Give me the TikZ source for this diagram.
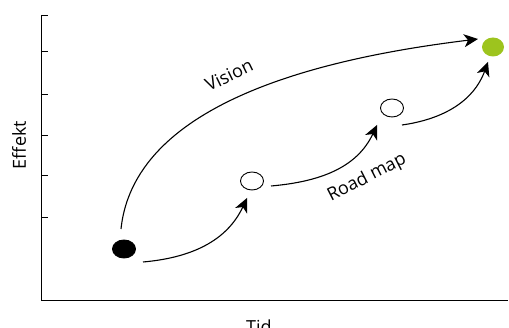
\documentclass[tikz,border=0pt]{standalone}
\usepackage{fontspec}
\setmainfont{Open Sans}
\usetikzlibrary{arrows.meta,shapes.geometric}

\definecolor{goalgreen}{RGB}{157,196,30}

\begin{document}
\begin{tikzpicture}[x=1pt,y=1pt,
    font=\fontsize{18}{21}\selectfont,
    milestone/.style={ellipse,draw,line width=0.9pt,inner sep=0pt,
                      minimum width=23pt,minimum height=18pt},
    route/.style={line width=1.1pt,-{Stealth[length=14pt,width=13pt,inset=4pt]}}]
  \useasboundingbox (0,0) rectangle (509,328);

  % axes
  \draw[line width=0.9pt] (41,313) -- (41,28) -- (508,28);
  \foreach \ty in {313,277,234,193,153,111}
    \draw[line width=0.9pt] (41,\ty) -- (48,\ty);
  \node[rotate=90] (yl) at (19,183) {Effekt};
  \node (xl) at (259,1) {Tid};

  % milestones
  \node[milestone,fill=black] (start) at (124,79) {};
  \node[milestone] (step1) at (252,147) {};
  \node[milestone] (step2) at (392,220) {};
  \node[milestone,draw=none,fill=goalgreen,minimum width=22pt,minimum height=19pt] (goal) at (493,281) {};

  % road map
  \draw[route] ([shift={(19,-13)}]start.center) to[out=5,in=-115] ([shift={(-5,-17)}]step1.center);
  \draw[route] ([shift={(19,-5)}]step1.center) to[out=5,in=-115] ([shift={(-15,-17)}]step2.center);
  \draw[route] ([shift={(10,-17)}]step2.center) to[out=8,in=-110] ([shift={(-5,-15)}]goal.center);
  \node[rotate=27] (rm) at (367,150) {Road map};

  % vision
  \draw[route] ([shift={(-3,20)}]start.center) to[out=84,in=187,looseness=0.85] ([shift={(-15,8)}]goal.center);
  \node[rotate=26] (vi) at (229,253) {Vision};
\end{tikzpicture}
\end{document}
